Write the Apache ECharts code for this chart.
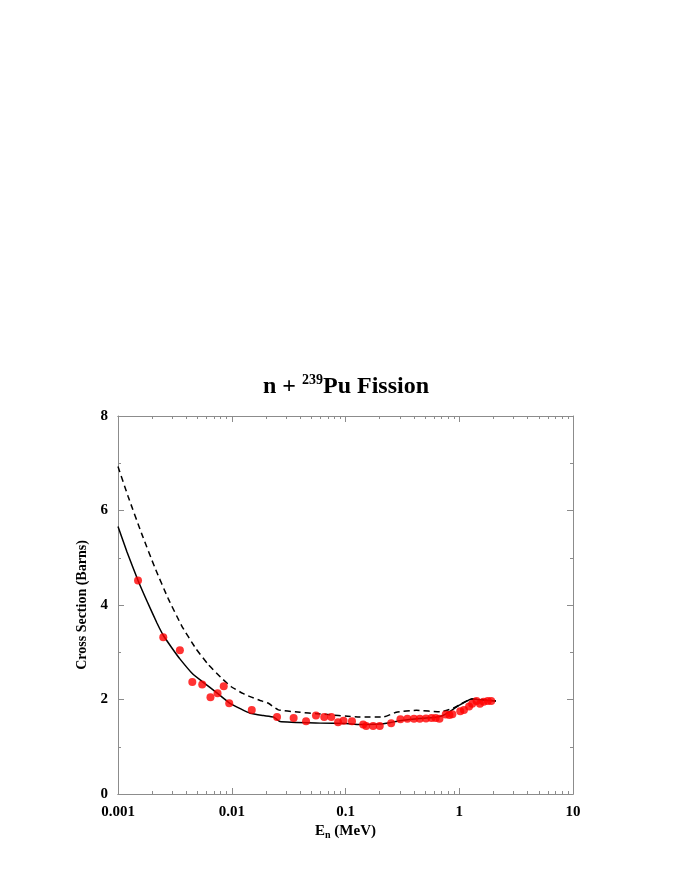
<!DOCTYPE html>
<html>
<head>
<meta charset="utf-8">
<script src="https://cdn.jsdelivr.net/npm/echarts@6/dist/echarts.min.js"></script>
<style>
  html, body { margin: 0; padding: 0; background: #fff; }
  #chart { width: 692px; height: 896px; }
</style>
</head>
<body>
<div id="chart"></div>
<script>
// measured points (E in MeV, sigma in barns)
const expE = [0.0015, 0.0025, 0.0035, 0.0045, 0.0055, 0.0065, 0.0075, 0.0085, 0.0095,
    0.015, 0.025, 0.035, 0.045, 0.055, 0.065, 0.075, 0.086, 0.096, 0.114, 0.143, 0.152,
    0.175, 0.2, 0.252, 0.304, 0.35, 0.4, 0.45, 0.51, 0.57, 0.62, 0.67, 0.76, 0.82, 0.87,
    1.02, 1.1, 1.22, 1.3, 1.42, 1.52, 1.64, 1.78, 1.91];
const expSigma = [4.52, 3.32, 3.04, 2.37, 2.32, 2.05, 2.13, 2.28, 1.92,
    1.78, 1.63, 1.61, 1.54, 1.66, 1.63, 1.63, 1.52, 1.55, 1.54, 1.47, 1.44,
    1.44, 1.44, 1.50, 1.58, 1.59, 1.59, 1.59, 1.60, 1.61, 1.61, 1.59, 1.68, 1.67, 1.69,
    1.75, 1.78, 1.85, 1.91, 1.97, 1.91, 1.95, 1.97, 1.97];

// solid curve
const solidE = [0.001, 0.0012, 0.0015, 0.0018, 0.0022, 0.0025, 0.003, 0.0035, 0.0045,
    0.0055, 0.0075, 0.0095, 0.012, 0.0145, 0.019, 0.0233, 0.0265,
    0.06, 0.1, 0.134, 0.2, 0.245, 0.3, 0.45, 0.6, 0.7, 0.83, 1.0, 1.29, 1.6, 2.1];
const solidSigma = [5.66, 5.12, 4.52, 4.08, 3.62, 3.36, 3.08, 2.86, 2.55,
    2.38, 2.13, 1.93, 1.80, 1.71, 1.66, 1.63, 1.535,
    1.50, 1.49, 1.47, 1.48, 1.51, 1.55, 1.60, 1.62, 1.65, 1.75, 1.88, 2.01, 1.99, 1.97];

// dashed curve
const dashE = [0.001, 0.00123, 0.00162, 0.00211, 0.00277, 0.00363, 0.0048, 0.00622,
    0.008, 0.0099, 0.0125, 0.0145, 0.0178, 0.021, 0.0257, 0.04, 0.056, 0.134, 0.215,
    0.28, 0.42, 0.68, 0.89, 1.29, 2.1];
const dashSigma = [6.93, 6.29, 5.50, 4.79, 4.13, 3.56, 3.09, 2.74,
    2.47, 2.27, 2.13, 2.06, 1.98, 1.92, 1.78, 1.73, 1.70, 1.63, 1.63,
    1.73, 1.77, 1.74, 1.82, 2.01, 1.97];

const xMajor = [0.001, 0.01, 0.1, 1, 10];
const xMinor = [];
[0.001, 0.01, 0.1, 1].forEach(d => {
    for (let k = 2; k <= 9; k++) xMinor.push(+(d * k).toPrecision(3));
});

const serif = 'Liberation Serif';
const frame = '#8c8c8c';

function zip(a, b) {
    return a.map((v, i) => [v, b[i]]);
}

function xAxisDef(pos, ticks, len, labels) {
    return {
        type: 'log',
        logBase: 10,
        min: 0.001,
        max: 10,
        position: pos,
        axisLine: { show: true, lineStyle: { color: frame, width: 1 } },
        axisTick: { show: true, inside: true, length: len, customValues: ticks,
            lineStyle: { color: frame } },
        axisLabel: labels ? {
            show: true, customValues: xMajor, margin: 11,
            fontFamily: serif, fontWeight: 'bold', fontSize: 15, color: '#000',
            formatter: v => String(v)
        } : { show: false },
        splitLine: { show: false },
        minorTick: { show: false }
    };
}

function yAxisDef(pos, labels) {
    return {
        type: 'value',
        min: 0,
        max: 8,
        interval: 2,
        position: pos,
        axisLine: { show: true, lineStyle: { color: frame, width: 1 } },
        axisTick: { show: true, inside: true, length: 6, lineStyle: { color: frame } },
        minorTick: { show: true, splitNumber: 2, length: 3, lineStyle: { color: frame } },
        axisLabel: labels ? {
            show: true, margin: 10,
            fontFamily: serif, fontWeight: 'bold', fontSize: 15, color: '#000'
        } : { show: false },
        splitLine: { show: false },
        name: labels ? 'Cross Section (Barns)' : '',
        nameLocation: 'middle',
        nameGap: 21,
        nameTextStyle: { fontFamily: serif, fontWeight: 'bold', fontSize: 14, color: '#000' }
    };
}

const chart = echarts.init(document.getElementById('chart'));

const xBottom = xAxisDef('bottom', xMajor, 6, true);
xBottom.name = '{a|E}{b|n}{a| (MeV)}';
xBottom.nameLocation = 'middle';
xBottom.nameGap = 28;
xBottom.nameTextStyle = {
    rich: {
        a: { fontFamily: serif, fontWeight: 'bold', fontSize: 15, color: '#000' },
        b: { fontFamily: serif, fontWeight: 'bold', fontSize: 10, color: '#000', padding: [8, 0, 0, 0] }
    }
};

chart.setOption({
    animation: false,
    backgroundColor: '#fff',
    title: {
        text: '{a|n + }{s|239}{a|Pu Fission}',
        left: 'center',
        top: 368,
        textStyle: {
            rich: {
                a: { fontFamily: serif, fontWeight: 'bold', fontSize: 24, color: '#000' },
                s: { fontFamily: serif, fontWeight: 'bold', fontSize: 14, color: '#000', padding: [0, 0, 14, 0] }
            }
        }
    },
    grid: { left: 118, right: 119, top: 416, bottom: 102 },
    xAxis: [
        xBottom,
        xAxisDef('bottom', xMinor, 3, false),
        xAxisDef('top', xMajor, 6, false),
        xAxisDef('top', xMinor, 3, false)
    ],
    yAxis: [yAxisDef('left', true), yAxisDef('right', false)],
    series: [
        {
            name: 'dashed',
            type: 'line',
            data: zip(dashE, dashSigma),
            symbol: 'none',
            smooth: 0.15,
            lineStyle: { color: '#000', width: 1.5, type: [6, 4] },
            z: 2
        },
        {
            name: 'solid',
            type: 'line',
            data: zip(solidE, solidSigma),
            symbol: 'none',
            smooth: 0.15,
            lineStyle: { color: '#000', width: 1.5 },
            z: 2
        },
        {
            name: 'exp',
            type: 'scatter',
            data: zip(expE, expSigma),
            symbol: 'circle',
            symbolSize: 8,
            itemStyle: { color: '#ff0000' },
            z: 3
        }
    ]
});
</script>
</body>
</html>
